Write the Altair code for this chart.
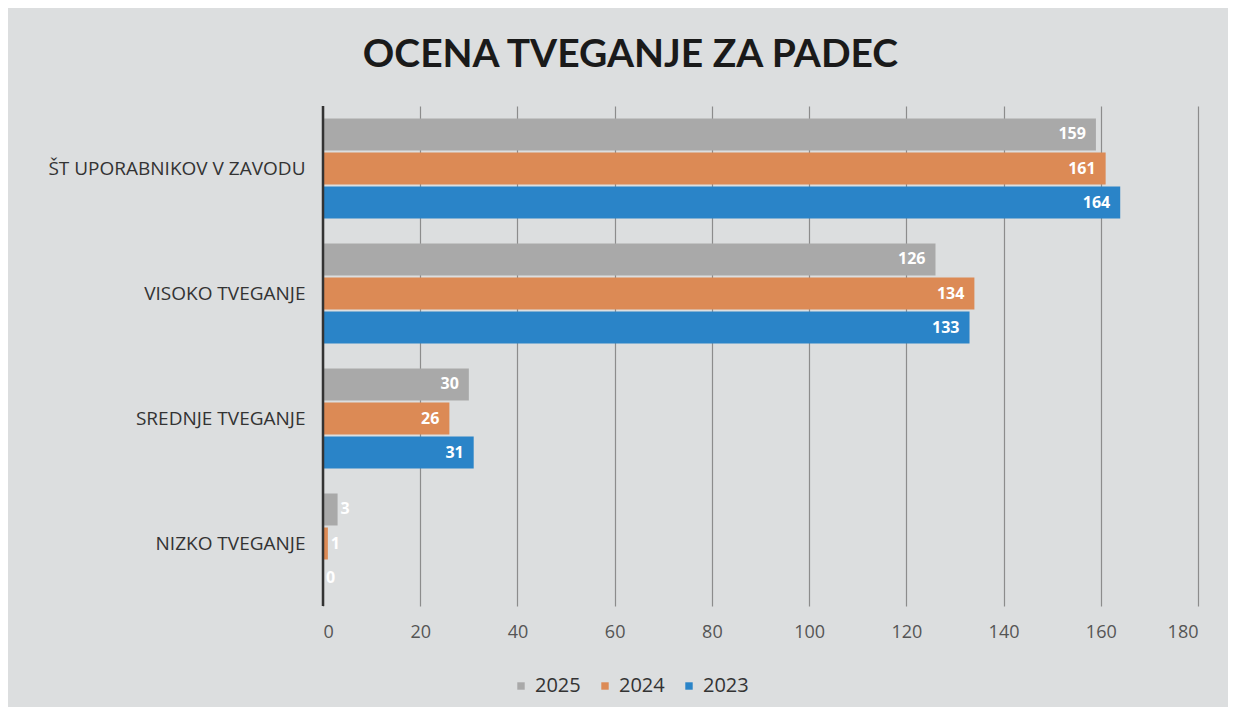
import altair as alt
import pandas as pd

categories = ["ŠT UPORABNIKOV V ZAVODU", "VISOKO TVEGANJE", "SREDNJE TVEGANJE", "NIZKO TVEGANJE"]
years = ["2025", "2024", "2023"]
values_2025 = [159, 126, 30, 3]
values_2024 = [161, 134, 26, 1]
values_2023 = [164, 133, 31, 0]
colors = ["#a9a9a9", "#dc8a55", "#2a84c8"]
x_ticks = [0, 20, 40, 60, 80, 100, 120, 140, 160, 180]

rows = []
for yr, vals in zip(years, [values_2025, values_2024, values_2023]):
    for c, v in zip(categories, vals):
        rows.append({"kategorija": c, "leto": yr, "vrednost": v})
df = pd.DataFrame(rows)

FONT = "Lato"
LFONT = "Open Sans"

y_enc = alt.Y("kategorija:N", sort=categories, title=None,
              scale=alt.Scale(paddingInner=0.2, paddingOuter=0.1),
              axis=alt.Axis(labelFont=LFONT, labelFontSize=19, labelColor="#333333",
                            labelPadding=18, ticks=False, domain=False,
                            minExtent=300, maxExtent=300, labelLimit=320))
yoff = alt.YOffset("leto:N", sort=years, scale=alt.Scale(paddingInner=0.06))
x_enc = alt.X("vrednost:Q", title=None,
              scale=alt.Scale(domain=[0, 180], nice=False),
              axis=alt.Axis(values=x_ticks, labelFont=LFONT, labelFontSize=18,
                            labelColor="#555555", labelPadding=17, ticks=False,
                            domain=False, grid=True, gridColor="#8c8c8c",
                            gridWidth=1.2))

bars = alt.Chart(df).mark_bar().encode(
    y=y_enc, yOffset=yoff, x=x_enc,
    color=alt.Color("leto:N", sort=years,
                    scale=alt.Scale(domain=years, range=colors),
                    legend=alt.Legend(title=None, orient="none", direction="horizontal",
                                      legendX=188, legendY=570, symbolType="square",
                                      symbolSize=55, labelFont=LFONT, labelFontSize=20,
                                      labelColor="#333333", columnPadding=14,
                                      symbolStrokeWidth=0)),
)

big = alt.Chart(df).transform_filter("datum.vrednost >= 10").mark_text(
    align="right", baseline="middle", dx=-10, color="white", font=LFONT,
    fontWeight="bold", fontSize=16
).encode(y=alt.Y("kategorija:N", sort=categories), yOffset=yoff,
         x="vrednost:Q", text="vrednost:Q")

small = alt.Chart(df).transform_filter("datum.vrednost < 10").mark_text(
    align="left", baseline="middle", dx=3, color="white", font=LFONT,
    fontWeight="bold", fontSize=16
).encode(y=alt.Y("kategorija:N", sort=categories), yOffset=yoff,
         x="vrednost:Q", text="vrednost:Q")

zero_rule = alt.Chart(pd.DataFrame({"v": [0]})).mark_rule(
    color="#333333", strokeWidth=2.5).encode(x="v:Q")

chart = alt.layer(bars, big, small, zero_rule).properties(
    width=875, height=500,
    title=alt.Title("OCENA TVEGANJE ZA PADEC", font=FONT, fontSize=39,
                    fontWeight="bold", color="#1a1a1a", anchor="middle",
                    frame="bounds", offset=30, dx=20),
    background="#dcdedf",
    padding={"left": 15, "top": 27, "right": 30, "bottom": 40},
).configure_view(stroke=None)

chart.save("out.html", embed_options={"renderer": "svg", "actions": False})
